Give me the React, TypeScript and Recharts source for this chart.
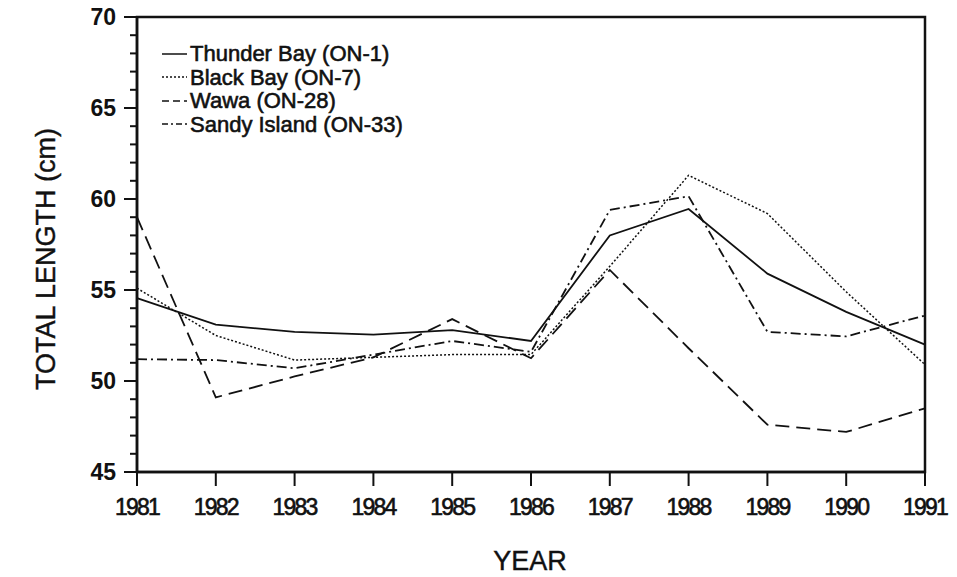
import React from 'react';
import { LineChart, Line, XAxis, YAxis, Legend, ReferenceArea } from 'recharts';

const years = [1981, 1982, 1983, 1984, 1985, 1986, 1987, 1988, 1989, 1990, 1991];
const thunderBay = [54.55, 53.1, 52.7, 52.55, 52.8, 52.2, 58.0, 59.45, 55.9, 53.8, 52.0];
const blackBay = [55.1, 52.5, 51.15, 51.3, 51.45, 51.45, 56.3, 61.3, 59.2, 54.9, 50.9];
const wawa = [59.0, 49.1, 50.25, 51.3, 53.4, 51.25, 56.1, 51.8, 47.6, 47.2, 48.5];
const sandyIsland = [51.2, 51.15, 50.7, 51.45, 52.2, 51.6, 59.4, 60.15, 52.7, 52.45, 53.6];

const yTicks = Array.from({ length: 26 }, (_, i) => 45 + i);
const majorTicks = [45, 50, 55, 60, 65, 70];

const seriesNames = ['Thunder Bay (ON-1)', 'Black Bay (ON-7)', 'Wawa (ON-28)', 'Sandy Island (ON-33)'];
const seriesKeys = ['thunder', 'black', 'wawa', 'sandy'];
const dashes = ['', '2 2', '14 7', '10 4 2 4'];
const legendDashes = ['', '2 2', '7 4', '6 3 2 3'];

const data = years.map((y, i) => ({
  year: y,
  thunder: thunderBay[i],
  black: blackBay[i],
  wawa: wawa[i],
  sandy: sandyIsland[i],
}));

const FONT = '"Liberation Sans", Arial, Helvetica, sans-serif';
const INK = '#111';

const YTick = (props: any) => {
  const { x, y, payload } = props;
  const major = majorTicks.includes(payload.value);
  return (
    <g>
      <line x1={x - (major ? 13 : 7)} x2={x} y1={y} y2={y} stroke={INK} strokeWidth={2} />
      {major && (
        <text x={x - 21} y={y} dy="0.36em" textAnchor="end" fontSize={23} fontWeight="bold" fontFamily={FONT} fill={INK}>
          {payload.value}
        </text>
      )}
    </g>
  );
};

const LegendContent = () => (
  <div style={{ fontFamily: FONT, fontSize: 22, color: INK, lineHeight: '23.5px', WebkitTextStroke: '0.6px #111' }}>
    {seriesNames.map((n, i) => (
      <div key={n} style={{ display: 'flex', alignItems: 'center', whiteSpace: 'nowrap' }}>
        <svg width={28} height={12} style={{ marginRight: 2 }}>
          <line x1={2} x2={27} y1={6} y2={6} stroke={INK} strokeWidth={1.5} strokeDasharray={legendDashes[i]} />
        </svg>
        <span>{n}</span>
      </div>
    ))}
  </div>
);

export default function App() {
  return (
    <div style={{ position: 'absolute', left: 0, top: 0, background: '#fff' }}>
      <LineChart width={957} height={577} data={data} margin={{ top: 17, right: 32, bottom: 0, left: 0 }}>
        <XAxis
          dataKey="year"
          type="number"
          domain={[1981, 1991]}
          ticks={years}
          height={105}
          axisLine={{ stroke: INK, strokeWidth: 2.5 }}
          tickLine={{ stroke: INK, strokeWidth: 2 }}
          tickSize={14}
          tickMargin={13}
          tick={{ fontSize: 23, fontFamily: FONT, fill: INK, letterSpacing: -1.8, stroke: INK, strokeWidth: 0.6 }}
          label={{
            content: () => (
              <text x={530} y={570} textAnchor="middle" fontSize={27} fontFamily={FONT} fill={INK} stroke={INK} strokeWidth={0.4}>
                YEAR
              </text>
            ),
          }}
        />
        <YAxis
          type="number"
          domain={[45, 70]}
          ticks={yTicks}
          interval={0}
          width={137}
          axisLine={{ stroke: INK, strokeWidth: 2.5 }}
          tickLine={false}
          tickSize={0}
          tickMargin={0}
          tick={<YTick />}
          label={{
            content: () => (
              <text x={55} y={259} transform="rotate(-90, 55, 259)" textAnchor="middle" fontSize={27} fontFamily={FONT} fill={INK} stroke={INK} strokeWidth={0.4}>
                TOTAL LENGTH (cm)
              </text>
            ),
          }}
        />
        <ReferenceArea x1={1981} x2={1991} y1={45} y2={70} fill="none" stroke={INK} strokeWidth={2.5} ifOverflow="visible" />
        {seriesKeys.map((k, i) => (
          <Line
            key={k}
            dataKey={k}
            name={seriesNames[i]}
            type="linear"
            stroke={INK}
            strokeWidth={i === 1 ? 1.5 : 1.8}
            strokeDasharray={dashes[i] || undefined}
            dot={false}
            activeDot={false}
            isAnimationActive={false}
          />
        ))}
        <Legend
          layout="vertical"
          align="center"
          verticalAlign="middle"
          content={<LegendContent />}
          wrapperStyle={{ left: 160, top: 42, width: 'auto' }}
        />
      </LineChart>
    </div>
  );
}
